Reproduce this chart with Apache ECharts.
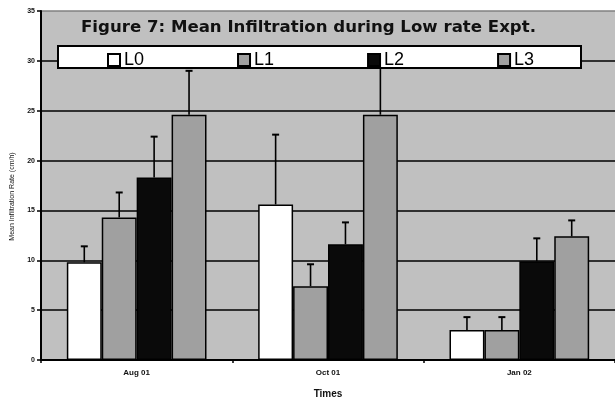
<!DOCTYPE html>
<html>
<head>
<meta charset="utf-8">
<script src="https://cdn.jsdelivr.net/npm/echarts@6/dist/echarts.min.js"></script>
<style>
  html, body { margin: 0; padding: 0; background: #fff; }
  #chart { width: 615px; height: 404px; }
</style>
</head>
<body>
<div id="chart"></div>
<script>
const categories = ['Aug 01', 'Oct 01', 'Jan 02']
const seriesNames = ['L0', 'L1', 'L2', 'L3']
const L0 = [9.8, 15.6, 3.0]
const L1 = [14.3, 7.4, 3.0]
const L2 = [18.3, 11.6, 9.9]
const L3 = [24.6, 24.6, 12.4]
// upward error bars (standard error)
const L0err = [1.6, 7.0, 1.3]
const L1err = [2.5, 2.2, 1.3]
const L2err = [4.1, 2.2, 2.3]
const L3err = [4.4, 5.6, 1.6]

const values = [L0, L1, L2, L3]
const errors = [L0err, L1err, L2err, L3err]
const colors = ['#ffffff', '#a0a0a0', '#0a0a0a', '#a0a0a0']
const FONT = '"Liberation Sans", Arial, sans-serif'
const GAP = 0.27

let chart = echarts.init(document.getElementById('chart'))

let barSeries = values.map((vals, i) => ({
    name: seriesNames[i],
    type: 'bar',
    barGap: 0,
    barCategoryGap: GAP * 100 + '%',
    itemStyle: { color: colors[i], borderColor: '#000', borderWidth: 1.5 },
    data: vals,
    z: 2
}))

let errSeries = errors.map((errs, i) => ({
    name: 'err' + i,
    type: 'custom',
    z: 3,
    data: errs.map((e, k) => [k, values[i][k], e]),
    renderItem: function (params, api) {
        let bw = api.size([1, 0])[0]
        let barW = bw * (1 - GAP) / 4
        let c = api.coord([api.value(0), api.value(1)])
        let top = api.coord([api.value(0), api.value(1) + api.value(2)])
        let x = c[0] - bw * (1 - GAP) / 2 + (i + 0.5) * barW
        let style = { stroke: '#000', lineWidth: 1.6 }
        return {
            type: 'group',
            children: [
                { type: 'line', shape: { x1: x, y1: c[1], x2: x, y2: top[1] }, style: style },
                { type: 'line', shape: { x1: x - 3.5, y1: top[1], x2: x + 3.5, y2: top[1] }, style: { stroke: '#000', lineWidth: 2 } }
            ]
        }
    }
}))

chart.setOption({
    animation: false,
    title: {
        text: 'Figure 7: Mean Infiltration during Low rate Expt.',
        left: 81,
        top: 19,
        padding: 0,
        textStyle: { fontFamily: '"DejaVu Sans", sans-serif', fontSize: 16.6, fontWeight: 'bold', color: '#111' }
    },
    graphic: [{
        type: 'rect',
        z: 5,
        shape: { x: 58, y: 46, width: 523, height: 22 },
        style: { fill: '#fff', stroke: '#000', lineWidth: 2 }
    }],
    legend: {
        data: seriesNames,
        left: 107,
        top: 51,
        padding: 0,
        z: 6,
        icon: 'rect',
        itemWidth: 12,
        itemHeight: 12,
        itemGap: 93,
        textStyle: { fontFamily: FONT, fontSize: 18, color: '#000', padding: [0, 0, 0, -1] }
    },
    grid: {
        left: 41,
        right: -2,
        top: 11,
        bottom: 42,
        show: true,
        backgroundColor: '#c0c0c0',
        borderWidth: 0
    },
    xAxis: {
        type: 'category',
        data: categories,
        name: 'Times',
        nameLocation: 'middle',
        nameGap: 29,
        nameTextStyle: { fontFamily: FONT, fontSize: 10, fontWeight: 'bold', color: '#111' },
        axisLine: { lineStyle: { color: '#000', width: 2 } },
        axisTick: { show: true, length: 3, lineStyle: { color: '#000', width: 1.5 } },
        axisLabel: { margin: 9, fontFamily: FONT, fontSize: 8, fontWeight: 'bold', color: '#111' }
    },
    yAxis: {
        type: 'value',
        min: 0,
        max: 35,
        interval: 5,
        name: 'Mean Infiltration Rate (cm/h)',
        nameLocation: 'middle',
        nameGap: 25,
        nameTextStyle: { fontFamily: FONT, fontSize: 7, color: '#111', padding: [0, 22, 0, 0] },
        axisLine: { show: true, lineStyle: { color: '#000', width: 2 } },
        axisTick: { show: true, length: 4, lineStyle: { color: '#000', width: 1.5 } },
        axisLabel: { margin: 6, fontFamily: FONT, fontSize: 7, fontWeight: 'bold', color: '#111' },
        splitLine: {
            show: true,
            lineStyle: {
                color: ['#000', '#000', '#000', '#000', '#000', '#000', '#000', '#808080'],
                width: 1.5
            }
        }
    },
    series: barSeries.concat(errSeries)
})
</script>
</body>
</html>
